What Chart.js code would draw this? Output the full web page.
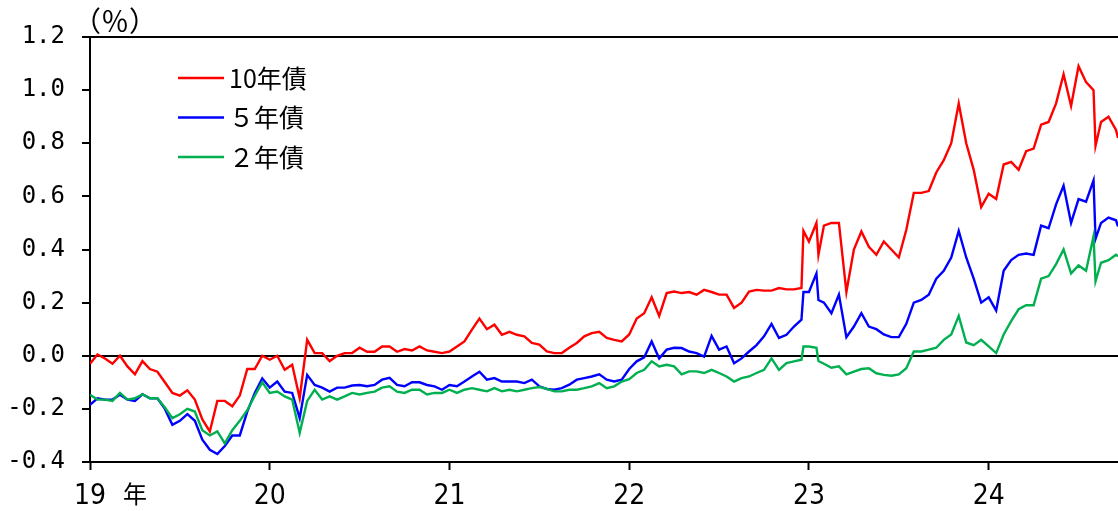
<!DOCTYPE html>
<html lang="ja">
<head>
<meta charset="utf-8">
<title>国債利回り</title>
<script src="https://cdn.jsdelivr.net/npm/chart.js@4.4.1/dist/chart.umd.min.js"></script>
<style>
	html, body { margin: 0; padding: 0; background: #fff; }
	#wrap { width: 1118px; height: 511px; position: relative; }
</style>
</head>
<body>
<div id="wrap"><canvas id="yieldChart"></canvas></div>
<script>
// semi-monthly readings, plus a few extra days around the big moves
const dates = [
	"2019-01-01","2019-01-16","2019-02-01","2019-02-16","2019-03-01","2019-03-16","2019-04-01","2019-04-16","2019-05-01","2019-05-16","2019-06-01","2019-06-16",
	"2019-07-01","2019-07-16","2019-08-01","2019-08-16","2019-09-01","2019-09-16","2019-10-01","2019-10-16","2019-11-01","2019-11-16","2019-12-01","2019-12-16",
	"2020-01-01","2020-01-16","2020-02-01","2020-02-16","2020-03-01","2020-03-16","2020-04-01","2020-04-16","2020-05-01","2020-05-16","2020-06-01","2020-06-16",
	"2020-07-01","2020-07-16","2020-08-01","2020-08-16","2020-09-01","2020-09-16","2020-10-01","2020-10-16","2020-11-01","2020-11-16","2020-12-01","2020-12-16",
	"2021-01-01","2021-01-16","2021-02-01","2021-02-16","2021-03-01","2021-03-16","2021-04-01","2021-04-16","2021-05-01","2021-05-16","2021-06-01","2021-06-16",
	"2021-07-01","2021-07-16","2021-08-01","2021-08-16","2021-09-01","2021-09-16","2021-10-01","2021-10-16","2021-11-01","2021-11-16","2021-12-01","2021-12-16",
	"2022-01-01","2022-01-16","2022-02-01","2022-02-16","2022-03-01","2022-03-16","2022-04-01","2022-04-16","2022-05-01","2022-05-16","2022-06-01","2022-06-16",
	"2022-07-01","2022-07-16","2022-08-01","2022-08-16","2022-09-01","2022-09-16","2022-10-01","2022-10-16","2022-11-01","2022-11-16","2022-12-01","2022-12-16","2022-12-20",
	"2023-01-01","2023-01-16","2023-01-20","2023-02-01","2023-02-16","2023-03-01","2023-03-16","2023-04-01","2023-04-16","2023-05-01","2023-05-16","2023-06-01","2023-06-16",
	"2023-07-01","2023-07-16","2023-08-01","2023-08-16","2023-09-01","2023-09-16","2023-10-01","2023-10-16","2023-11-01","2023-11-16","2023-12-01","2023-12-16",
	"2024-01-01","2024-01-16","2024-02-01","2024-02-16","2024-03-01","2024-03-16","2024-04-01","2024-04-16","2024-05-01","2024-05-16","2024-06-01","2024-06-16",
	"2024-07-01","2024-07-16","2024-08-01","2024-08-05","2024-08-16","2024-09-01","2024-09-16","2024-09-20"
];

const jgb10y = [
	-0.03, 0.005, -0.01, -0.03, 0.0, -0.04, -0.07, -0.02, -0.05, -0.06, -0.10, -0.14, -0.15, -0.13, -0.165, -0.24, -0.285, -0.17, -0.17, -0.19, -0.15, -0.05, -0.05, 0.0,
	-0.015, 0.0, -0.053, -0.034, -0.16, 0.06, 0.01, 0.01, -0.02, 0.0, 0.01, 0.01, 0.03, 0.015, 0.015, 0.035, 0.035, 0.015, 0.025, 0.02, 0.035, 0.02, 0.015, 0.01,
	0.016, 0.035, 0.054, 0.098, 0.14, 0.10, 0.117, 0.079, 0.09, 0.079, 0.073, 0.048, 0.042, 0.016, 0.01, 0.01, 0.03, 0.048, 0.073, 0.085, 0.09, 0.067, 0.06, 0.054,
	0.08, 0.14, 0.16, 0.22, 0.15, 0.236, 0.242, 0.236, 0.24, 0.23, 0.248, 0.24, 0.23, 0.23, 0.18, 0.20, 0.242, 0.248, 0.245, 0.245, 0.255, 0.25, 0.25, 0.255, 0.47,
	0.43, 0.50, 0.38, 0.49, 0.50, 0.50, 0.24, 0.40, 0.468, 0.41, 0.38, 0.43, 0.40, 0.37, 0.474, 0.613, 0.613, 0.62, 0.69, 0.736, 0.80, 0.95, 0.80, 0.70, 0.56,
	0.61, 0.59, 0.72, 0.73, 0.70, 0.77, 0.78, 0.87, 0.88, 0.95, 1.06, 0.94, 1.09, 1.03, 1.00, 0.79, 0.88, 0.90, 0.85, 0.82
];

const jgb5y = [
	-0.185, -0.16, -0.165, -0.165, -0.147, -0.165, -0.17, -0.145, -0.16, -0.16, -0.20, -0.26, -0.245, -0.22, -0.245, -0.316, -0.354, -0.37, -0.34, -0.30, -0.30, -0.21, -0.14, -0.085,
	-0.12, -0.097, -0.135, -0.14, -0.235, -0.072, -0.11, -0.12, -0.135, -0.12, -0.12, -0.112, -0.11, -0.115, -0.11, -0.09, -0.083, -0.11, -0.115, -0.10, -0.10, -0.11, -0.115, -0.128,
	-0.11, -0.115, -0.097, -0.078, -0.06, -0.09, -0.084, -0.097, -0.097, -0.097, -0.103, -0.09, -0.115, -0.125, -0.128, -0.122, -0.109, -0.09, -0.084, -0.078, -0.07, -0.09, -0.097, -0.09,
	-0.05, -0.021, -0.006, 0.054, -0.01, 0.023, 0.03, 0.029, 0.016, 0.01, -0.003, 0.075, 0.023, 0.035, -0.028, -0.01, 0.016, 0.04, 0.073, 0.12, 0.067, 0.079, 0.11, 0.136, 0.24,
	0.24, 0.31, 0.21, 0.20, 0.16, 0.23, 0.07, 0.11, 0.16, 0.11, 0.10, 0.08, 0.07, 0.07, 0.12, 0.20, 0.21, 0.23, 0.29, 0.32, 0.37, 0.47, 0.37, 0.29, 0.20,
	0.22, 0.17, 0.32, 0.36, 0.38, 0.385, 0.38, 0.49, 0.48, 0.57, 0.64, 0.50, 0.59, 0.58, 0.66, 0.44, 0.50, 0.52, 0.51, 0.487
];

const jgb2y = [
	-0.147, -0.165, -0.165, -0.17, -0.14, -0.165, -0.16, -0.145, -0.16, -0.16, -0.195, -0.235, -0.22, -0.20, -0.21, -0.28, -0.30, -0.285, -0.33, -0.28, -0.245, -0.205, -0.15, -0.10,
	-0.14, -0.135, -0.153, -0.165, -0.29, -0.17, -0.128, -0.165, -0.153, -0.165, -0.153, -0.14, -0.146, -0.14, -0.135, -0.12, -0.115, -0.135, -0.14, -0.128, -0.128, -0.146, -0.14, -0.14,
	-0.128, -0.14, -0.128, -0.122, -0.128, -0.134, -0.122, -0.134, -0.128, -0.134, -0.128, -0.122, -0.118, -0.125, -0.134, -0.134, -0.128, -0.128, -0.122, -0.115, -0.103, -0.122, -0.115, -0.097,
	-0.088, -0.065, -0.053, -0.021, -0.04, -0.034, -0.04, -0.07, -0.059, -0.059, -0.065, -0.053, -0.065, -0.078, -0.097, -0.084, -0.078, -0.065, -0.053, -0.01, -0.053, -0.028, -0.021, -0.015, 0.035,
	0.035, 0.03, -0.02, -0.03, -0.045, -0.04, -0.07, -0.06, -0.05, -0.047, -0.066, -0.072, -0.075, -0.07, -0.047, 0.016, 0.016, 0.023, 0.03, 0.06, 0.08, 0.15, 0.05, 0.04, 0.06,
	0.035, 0.01, 0.08, 0.13, 0.175, 0.19, 0.19, 0.29, 0.30, 0.345, 0.40, 0.31, 0.34, 0.32, 0.45, 0.28, 0.35, 0.36, 0.38, 0.375
];

const seriesNames = ["10年債", "５年債", "２年債"];
const seriesColors = ["#ff0000", "#0000ff", "#00b050"];
const yearTicks = [2019, 2020, 2021, 2022, 2023, 2024];
const yearLabels = ["19", "20", "21", "22", "23", "24"];

function toYear(s) {
	const [y, m, d] = s.split("-").map(Number);
	return y + (m - 1 + (d - 1) / 30) / 12;
}

const xs = dates.map(toYear);
const toPoints = vals => vals.map((v, i) => ({ x: xs[i], y: v }));

const cjk = "'Noto Sans CJK JP', sans-serif";

// legend, "(%)" and "年" drawn on the canvas
const extraText = {
	id: "extraText",
	afterDraw(chart) {
		const ctx = chart.ctx;
		const xScale = chart.scales.x;
		ctx.save();
		ctx.fillStyle = "#000";
		ctx.textBaseline = "middle";

		ctx.font = "28px " + cjk;
		ctx.textAlign = "left";
		ctx.fillText("（％）", 73, 21);

		ctx.font = "24px " + cjk;
		ctx.textAlign = "center";
		ctx.fillText("年", xScale.getPixelForValue(yearTicks[0]) + 45, 494);

		ctx.font = "25px " + cjk;
		ctx.textAlign = "left";
		seriesNames.forEach((name, i) => {
			const y = 78 + i * 39.5;
			ctx.strokeStyle = seriesColors[i];
			ctx.lineWidth = 2.5;
			ctx.beginPath();
			ctx.moveTo(178, y);
			ctx.lineTo(224, y);
			ctx.stroke();
			ctx.fillText(name, 229, y);
		});
		ctx.restore();
	}
};

const isEdgeLine = v => Math.abs(v) < 1e-6 || Math.abs(v - 1.2) < 1e-6;

new Chart(document.getElementById("yieldChart"), {
	type: "line",
	data: {
		datasets: [jgb10y, jgb5y, jgb2y].map((vals, i) => ({
			label: seriesNames[i],
			data: toPoints(vals),
			borderColor: seriesColors[i],
			borderWidth: 2.4,
			pointRadius: 0,
			tension: 0,
			order: 2 - i
		}))
	},
	options: {
		responsive: true,
		maintainAspectRatio: false,
		animation: false,
		layout: { padding: { left: 0, top: 37, right: 0, bottom: 0 } },
		plugins: {
			legend: { display: false },
			tooltip: { enabled: false }
		},
		scales: {
			x: {
				type: "linear",
				min: yearTicks[0],
				max: xs[xs.length - 1],
				afterBuildTicks: s => { s.ticks = yearTicks.map(v => ({ value: v })); },
				afterFit: s => { s.height = 49; },
				ticks: {
					autoSkip: false,
					maxRotation: 0,
					padding: 10,
					color: "#000",
					font: { family: "'Liberation Sans Narrow', 'DejaVu Sans Condensed', sans-serif", size: 28 },
					callback: (v, idx) => yearLabels[idx]
				},
				grid: { drawOnChartArea: false, drawTicks: true, tickLength: 8, tickColor: "#000", tickWidth: 2 },
				border: { display: true, color: "#000", width: 2 }
			},
			y: {
				min: -0.4,
				max: 1.2,
				afterFit: s => { s.width = 90; },
				ticks: {
					stepSize: 0.2,
					padding: 17,
					color: "#000",
					font: { family: "'DejaVu Sans Mono', monospace", size: 24 },
					callback: v => Number(v).toFixed(1)
				},
				grid: {
					drawOnChartArea: true,
					drawTicks: true,
					tickLength: 8,
					lineWidth: 2,
					tickWidth: 2,
					tickColor: "#000",
					color: c => isEdgeLine(c.tick.value) ? "#000" : "rgba(0,0,0,0)"
				},
				border: { display: true, color: "#000", width: 2 }
			}
		}
	},
	plugins: [extraText]
});
</script>
</body>
</html>
